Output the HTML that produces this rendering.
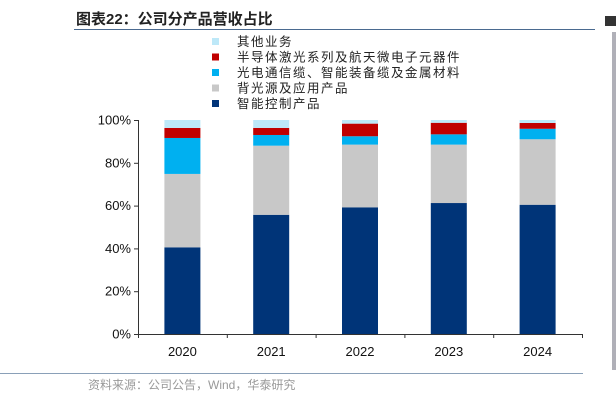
<!DOCTYPE html>
<html><head><meta charset="utf-8"><style>
body{margin:0;background:#fff;width:616px;height:403px;overflow:hidden;font-family:"Liberation Sans","Noto Sans CJK SC",sans-serif}
</style></head><body>
<svg width="616" height="403" xmlns="http://www.w3.org/2000/svg">
<text x="76" y="24" font-size="15" font-weight="bold" fill="#222" font-family="Liberation Sans, Noto Sans CJK SC, sans-serif">图表22：公司分产品营收占比</text>
<line x1="74" y1="29.5" x2="595" y2="29.5" stroke="#4a6a90" stroke-width="1"/>
<rect x="605" y="16" width="11" height="10" fill="#333"/>
<rect x="612" y="32" width="4" height="338" fill="#b0b0b8"/>
<line x1="0" y1="373.5" x2="583" y2="373.5" stroke="#8aa0b8" stroke-width="1"/>
<text x="88" y="389" font-size="12" fill="#999" font-family="Liberation Sans, Noto Sans CJK SC, sans-serif">资料来源：公司公告，Wind，华泰研究</text>
<g id="legend"></g><g id="plot"></g>
</svg>
<script>
const categories=["2020","2021","2022","2023","2024"];
const seriesNames=["智能控制产品","背光源及应用产品","光电通信缆、智能装备缆及金属材料","半导体激光系列及航天微电子元器件","其他业务"];
const s1=[40.5,55.7,59.2,61.2,60.4];
const s2=[34.3,32.3,29.3,27.3,30.6];
const s3=[16.8,5.0,3.9,4.8,4.9];
const s4=[4.7,3.3,5.9,5.4,2.7];
const s5=[3.7,3.7,1.7,1.3,1.4];
const yTicks=[0,20,40,60,80,100];
const colors=["#003478","#c8c8c8","#00b0f0","#c00000","#bde8f8"];
const series=[s1,s2,s3,s4,s5];
const NS="http://www.w3.org/2000/svg";
const X0=138,X1=582,Y0=334,Y1=120;
const band=(X1-X0)/categories.length;
const xc=i=>X0+band*(i+0.5);
const y=v=>Y0-(Y1-Y0)*-v/100;
function mk(t,a,p){const e=document.createElementNS(NS,t);for(const k in a)e.setAttribute(k,a[k]);p.appendChild(e);return e;}
const plot=document.getElementById("plot"),leg=document.getElementById("legend");
categories.forEach((c,i)=>{let cum=0;series.forEach((s,j)=>{
 const r=mk("rect",{x:xc(i)-18,y:y(cum+s[i]),width:36,height:y(cum)-y(cum+s[i]),fill:colors[j]},plot);
 
 
 cum+=s[i];});
 const t=mk("text",{x:xc(i),y:356,"font-size":13,"text-anchor":"middle",fill:"#111"},plot);t.textContent=c;
 
 
});
const ax=mk("line",{x1:X0+.5,y1:Y1,x2:X0+.5,y2:Y0,stroke:"#333"},plot);


const bx=mk("line",{x1:X0,y1:Y0+.5,x2:X1,y2:Y0+.5,stroke:"#333"},plot);


for(let i=0;i<=categories.length;i++){const tk=mk("line",{x1:X0+band*i+.5,y1:Y0,x2:X0+band*i+.5,y2:Y0+4,stroke:"#333"},plot);
 
 }
yTicks.forEach(v=>{const tk=mk("line",{x1:X0-4,y1:y(v)+.5,x2:X0,y2:y(v)+.5,stroke:"#333"},plot);
 
 
 const t=mk("text",{x:X0-7,y:y(v)+4.5,"font-size":13,"text-anchor":"end",fill:"#111"},plot);t.textContent=v+"%";
 
 });
for(let j=4;j>=0;j--){const k=4-j,yy=41+k*15.5;
 const r=mk("rect",{x:212,y:yy-3,width:7,height:7,fill:colors[j]},leg);
 
 
 const t=mk("text",{x:237,y:yy+5,"font-size":12.5,fill:"#222","letter-spacing":"1.5"},leg);t.textContent=seriesNames[j];
 
 }
</script>
</body></html>
